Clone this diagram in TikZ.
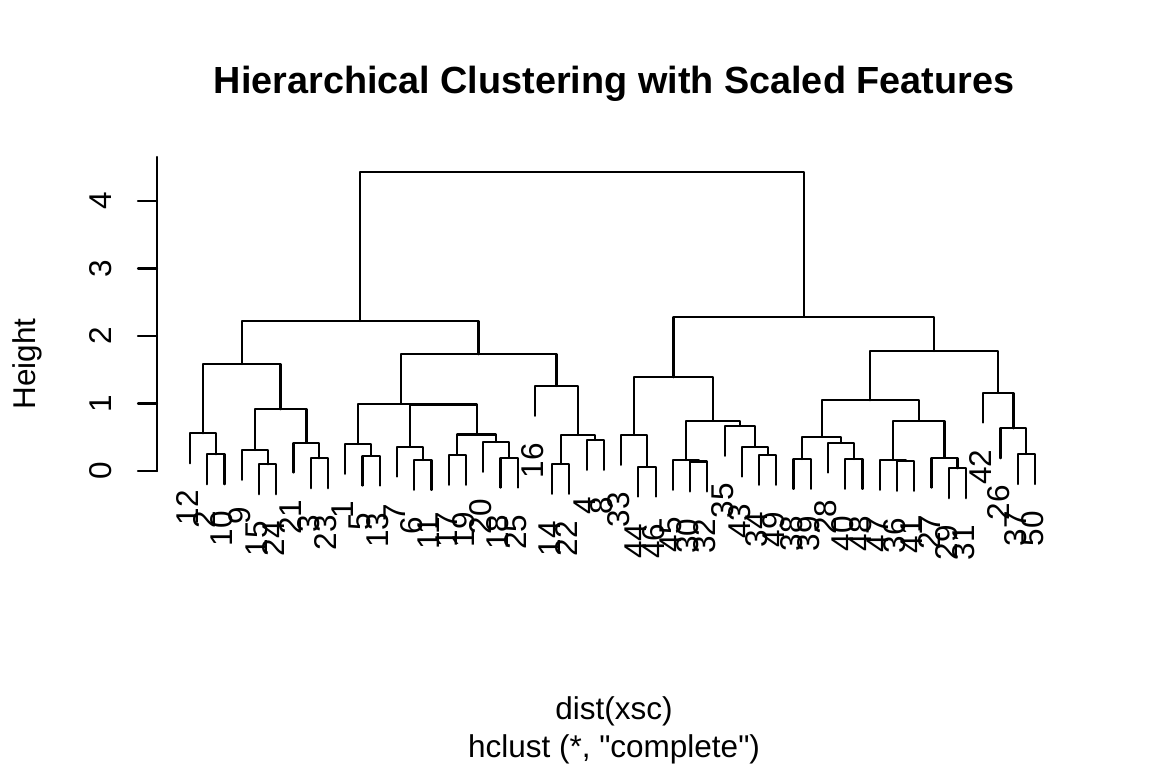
\documentclass[tikz,border=0pt]{standalone}
\usepackage{fontspec}
\setmainfont{Liberation Sans}[Ligatures=TeXOff]
\usetikzlibrary{calc}

\newcommand{\rfont}{\fontsize{31.5}{38}\selectfont}
% one bracket of the dendrogram: name, left child, right child, height
\newcommand{\dmerge}[4]{%
  \coordinate (#1) at ($(#2)!0.5!(#3)$);
  \coordinate (#1) at (#1 |- 0,#4);
  \draw[link] (#2) |- (#1) -| (#3);}

\begin{document}
\begin{tikzpicture}[x=1pt, y=-1pt,
  link/.style={line width=2.2pt, line cap=round, line join=round},
  axlab/.style={inner sep=0pt, font=\rfont},
  ticklab/.style={rotate=90, anchor=base, inner sep=0pt, font=\rfont},
  leaflab/.style={rotate=90, anchor=base east, inner sep=0pt, font=\rfont},
  titlelab/.style={inner sep=0pt, anchor=base, font=\fontsize{37.8}{44}\selectfont\bfseries}
]
  \useasboundingbox (0,0) rectangle (1152,768);

  \node[titlelab] (title) at (614,93) {Hierarchical Clustering with Scaled Features};

  % height axis
  \coordinate (ybot) at (157,471);
  \coordinate (ytop) at (157,157);
  \draw[link] (ybot) -- (ytop);
  \foreach \t in {0,...,4} {
    \coordinate (tk\t) at (157,471-67.5*\t);
    \draw[link] (tk\t) -- ++(-19,0);
    \node[ticklab] (tl\t) at (111.7,471-67.5*\t) {\t};
  }
  \node[axlab, rotate=90, anchor=base] (ylab) at (35,364) {Height};

  \begin{scope}[shift={(172.755,471)}, x=17.245pt, y=67.5pt]
    % leaves: label / height of parent bracket
    \foreach \lab/\p [count=\i] in {12/0.558, 2/0.247, 10/0.247, 9/0.311, 15/0.099,
        24/0.099, 21/0.42, 3/0.188, 23/0.188, 1/0.40, 5/0.227, 13/0.227, 7/0.36,
        6/0.163, 11/0.163, 17/0.237, 19/0.237, 20/0.43, 18/0.197, 25/0.197,
        16/1.26, 14/0.104, 22/0.104, 4/0.459, 8/0.459, 33/0.533, 44/0.064,
        46/0.064, 45/0.163, 30/0.14, 32/0.14, 35/0.667, 43/0.36, 34/0.237,
        49/0.237, 38/0.178, 39/0.178, 28/0.42, 40/0.178, 48/0.178, 47/0.163,
        36/0.148, 41/0.148, 27/0.197, 29/0.04, 31/0.04, 42/1.16, 26/0.632,
        37/0.25, 50/0.25} {
      \coordinate (l\lab) at (\i,\p-0.443);
      \node[leaflab] (n\lab) at ([xshift=8.5pt, yshift=-27pt]l\lab) {\lab};
    }

    % left half
    \dmerge{a1}{l2}{l10}{0.247}
    \dmerge{a2}{l12}{a1}{0.558}
    \dmerge{a3}{l15}{l24}{0.099}
    \dmerge{a4}{l9}{a3}{0.311}
    \dmerge{a5}{l3}{l23}{0.188}
    \dmerge{a6}{l21}{a5}{0.42}
    \dmerge{a7}{a4}{a6}{0.914}
    \dmerge{a8}{a2}{a7}{1.585}
    \dmerge{b1}{l5}{l13}{0.227}
    \dmerge{b2}{l1}{b1}{0.40}
    \dmerge{b3}{l6}{l11}{0.163}
    \dmerge{b4}{l7}{b3}{0.36}
    \dmerge{b5}{l17}{l19}{0.237}
    \dmerge{b6}{l18}{l25}{0.197}
    \dmerge{b7}{l20}{b6}{0.43}
    \dmerge{b8}{b5}{b7}{0.54}
    \dmerge{b9}{b4}{b8}{0.985}
    \dmerge{b10}{b2}{b9}{0.995}
    \dmerge{c1}{l14}{l22}{0.104}
    \dmerge{c2}{l4}{l8}{0.459}
    \dmerge{c3}{c1}{c2}{0.533}
    \dmerge{c4}{l16}{c3}{1.26}
    \dmerge{c5}{b10}{c4}{1.729}
    \dmerge{lft}{a8}{c5}{2.222}

    % right half
    \dmerge{d1}{l44}{l46}{0.064}
    \dmerge{d2}{l33}{d1}{0.533}
    \dmerge{d3}{l30}{l32}{0.14}
    \dmerge{d4}{l45}{d3}{0.163}
    \dmerge{d5}{l34}{l49}{0.237}
    \dmerge{d6}{l43}{d5}{0.36}
    \dmerge{d7}{l35}{d6}{0.667}
    \dmerge{d8}{d4}{d7}{0.745}
    \dmerge{d9}{d2}{d8}{1.39}
    \dmerge{e1}{l38}{l39}{0.178}
    \dmerge{e2}{l40}{l48}{0.178}
    \dmerge{e3}{l28}{e2}{0.42}
    \dmerge{e4}{e1}{e3}{0.508}
    \dmerge{e5}{l36}{l41}{0.148}
    \dmerge{e6}{l47}{e5}{0.163}
    \dmerge{e7}{l29}{l31}{0.04}
    \dmerge{e8}{l27}{e7}{0.197}
    \dmerge{e9}{e6}{e8}{0.745}
    \dmerge{e10}{e4}{e9}{1.047}
    \dmerge{f1}{l37}{l50}{0.25}
    \dmerge{f2}{l26}{f1}{0.632}
    \dmerge{f3}{l42}{f2}{1.16}
    \dmerge{e11}{e10}{f3}{1.778}
    \dmerge{rgt}{d9}{e11}{2.286}

    \dmerge{root}{lft}{rgt}{4.43}
  \end{scope}

  \node[axlab, anchor=base] (xlab) at (614,719) {dist(xsc)};
  \node[axlab, anchor=base] (sub) at (614,757) {hclust (*, "complete")};
\end{tikzpicture}
\end{document}
